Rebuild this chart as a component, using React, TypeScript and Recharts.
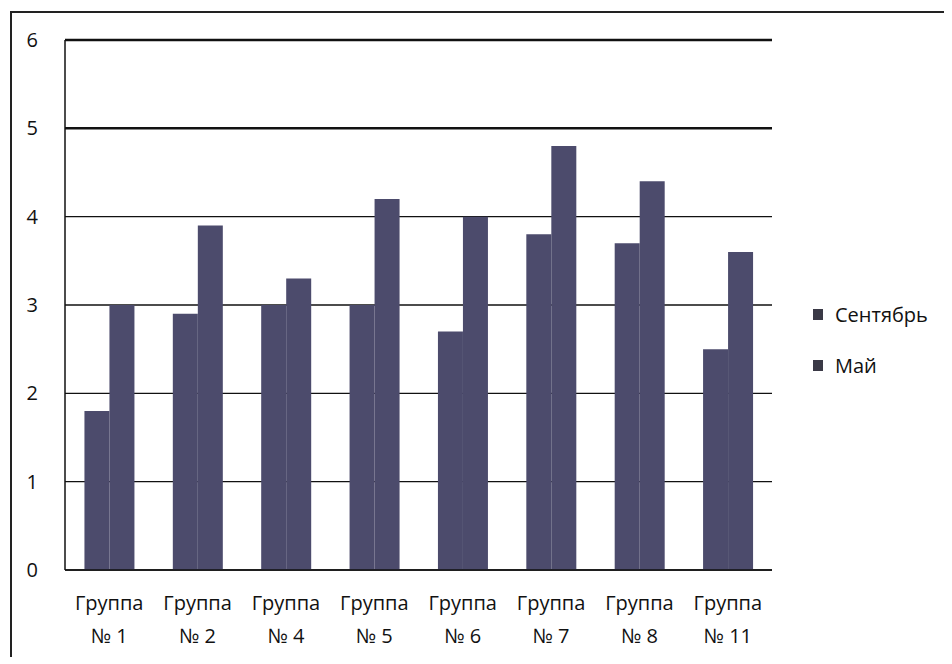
import React from "react";
import {
  BarChart,
  Bar,
  XAxis,
  YAxis,
  CartesianGrid,
  ReferenceLine,
} from "recharts";

const groups = ["№ 1", "№ 2", "№ 4", "№ 5", "№ 6", "№ 7", "№ 8", "№ 11"];
const september = [1.8, 2.9, 3.0, 3.0, 2.7, 3.8, 3.7, 2.5];
const may = [3.0, 3.9, 3.3, 4.2, 4.0, 4.8, 4.4, 3.6];
const yTicks = [0, 1, 2, 3, 4, 5, 6];
const seriesNames = ["Сентябрь", "Май"];

const data = groups.map((g, i) => ({
  group: g,
  sep: september[i],
  may: may[i],
}));

const FONT = "'Open Sans', sans-serif";
const BAR = "#4c4b6c";
const TEXT = "#111";

function GroupTick(props: any) {
  const { x, y, payload } = props;
  return (
    <text x={x} y={y} textAnchor="middle" fontFamily={FONT} fontSize={20} fill={TEXT}>
      <tspan x={x} dy={32}>Группа</tspan>
      <tspan x={x} dy={33}>{payload.value}</tspan>
    </text>
  );
}

export default function App() {
  return (
    <div
      style={{
        position: "relative",
        left: 2,
        top: 3,
        width: 940,
        height: 645,
        border: "2px solid #222",
        borderRight: "none",
        background: "#fff",
      }}
    >
      <BarChart
        width={940}
        height={645}
        data={data}
        margin={{ top: 27, right: 180, bottom: 18, left: 13 }}
        barCategoryGap="22%"
        barGap={0}
      >
        <CartesianGrid vertical={false} stroke="#111" strokeWidth={1.3} />
        <XAxis
          dataKey="group"
          tick={<GroupTick />}
          tickLine={false}
          axisLine={{ stroke: "#111", strokeWidth: 1.5 }}
          height={70}
          interval={0}
        />
        <YAxis
          domain={[0, 6]}
          ticks={yTicks}
          width={40}
          tickLine={false}
          tickMargin={21}
          axisLine={{ stroke: "#111", strokeWidth: 1.5 }}
          tick={{ fontFamily: FONT, fontSize: 20, fill: TEXT }}
        />
        <ReferenceLine y={5} stroke="#111" strokeWidth={2.5} />
        <ReferenceLine y={6} stroke="#111" strokeWidth={2.5} />
        <Bar dataKey="sep" name={seriesNames[0]} fill={BAR} isAnimationActive={false} />
        <Bar dataKey="may" name={seriesNames[1]} fill={BAR} isAnimationActive={false} />
      </BarChart>
      <div style={{ position: "absolute", left: 801, top: 287, fontFamily: FONT, fontSize: 20, color: TEXT }}>
        {seriesNames.map((n, i) => (
          <div key={n} style={{ display: "flex", alignItems: "center", height: 28, marginBottom: i === 0 ? 23 : 0 }}>
            <span style={{ width: 10, height: 11, background: "#3a3946", marginRight: 12, display: "inline-block" }} />
            {n}
          </div>
        ))}
      </div>
    </div>
  );
}
